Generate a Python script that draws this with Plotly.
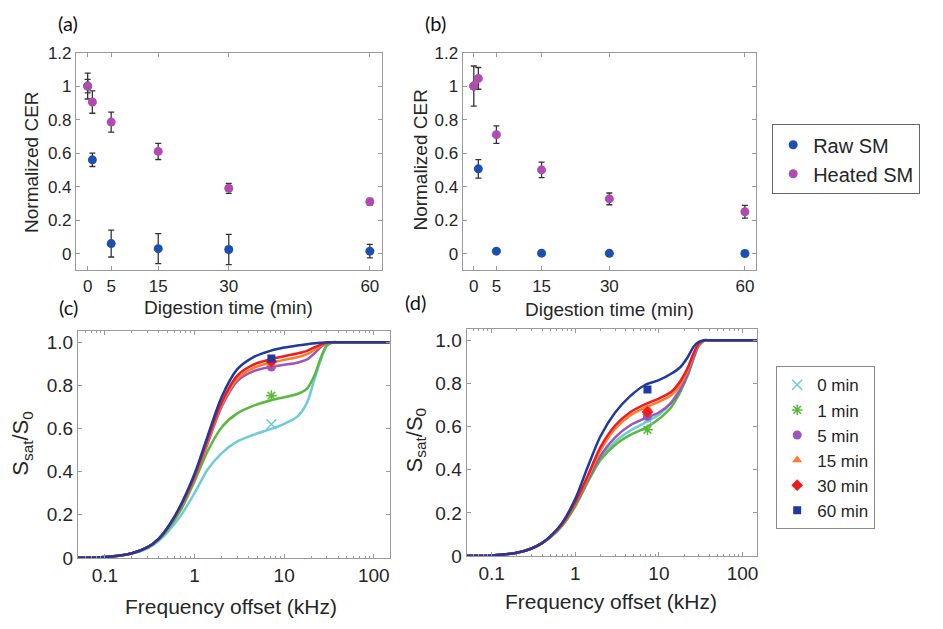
"""Digestion of SM: normalized CER (a, b) and saturation spectra (c, d)."""

import plotly.graph_objects as go

W, H = 943, 629

# ── Data ───────────────────────────────────────────────────────────
digestion_min = [0, 1, 5, 15, 30, 60]
time_ticks = [0, 5, 15, 30, 60]

a_raw = [1.0, 0.56, 0.06, 0.03, 0.025, 0.015]
a_raw_err = [0.077, 0.04, 0.08, 0.09, 0.09, 0.04]
a_heated = [1.0, 0.905, 0.785, 0.61, 0.39, 0.31]
a_heated_err = [0.04, 0.067, 0.06, 0.048, 0.03, 0.02]

b_raw = [1.0, 0.506, 0.015, 0.003, 0.002, 0.001]
b_raw_err = [0.12, 0.055, 0.005, 0.004, 0.004, 0.004]
b_heated = [1.0, 1.046, 0.71, 0.50, 0.327, 0.25]
b_heated_err = [0.0, 0.065, 0.052, 0.046, 0.035, 0.038]

freq_khz = [0.05, 0.1, 0.2, 0.3, 0.4, 0.5, 0.7, 1, 1.4, 2, 3, 4.5, 7, 10,
            14, 18, 22, 26, 30, 35, 40, 60, 100, 150]

c_0min = [0.001, 0.004, 0.02, 0.045, 0.08, 0.12, 0.195, 0.30, 0.41, 0.485, 0.54, 0.57,
          0.597, 0.622, 0.655, 0.72, 0.835, 0.925, 0.985, 1, 1, 1, 1, 1]
c_1min = [0.001, 0.004, 0.021, 0.048, 0.085, 0.13, 0.22, 0.355, 0.495, 0.605, 0.67, 0.705,
          0.73, 0.745, 0.76, 0.785, 0.85, 0.935, 0.985, 1, 1, 1, 1, 1]
c_5min = [0.001, 0.004, 0.022, 0.05, 0.09, 0.14, 0.235, 0.37, 0.53, 0.70, 0.82, 0.865,
          0.885, 0.895, 0.905, 0.92, 0.95, 0.98, 0.996, 1, 1, 1, 1, 1]
c_15min = [0.001, 0.004, 0.022, 0.05, 0.09, 0.14, 0.238, 0.375, 0.54, 0.71, 0.83, 0.88,
           0.905, 0.918, 0.93, 0.945, 0.965, 0.985, 0.997, 1, 1, 1, 1, 1]
c_30min = [0.001, 0.004, 0.022, 0.05, 0.09, 0.14, 0.24, 0.38, 0.55, 0.72, 0.845, 0.895,
           0.92, 0.935, 0.948, 0.96, 0.977, 0.99, 0.998, 1, 1, 1, 1, 1]
c_60min = [0.001, 0.004, 0.022, 0.05, 0.09, 0.14, 0.245, 0.39, 0.565, 0.745, 0.875, 0.93,
           0.96, 0.975, 0.985, 0.991, 0.995, 0.998, 1, 1, 1, 1, 1, 1]

d_0min = [0.001, 0.003, 0.015, 0.035, 0.06, 0.087, 0.143, 0.235, 0.345, 0.455, 0.53, 0.58,
          0.62, 0.655, 0.71, 0.785, 0.855, 0.93, 0.98, 1, 1, 1, 1, 1]
d_1min = [0.001, 0.003, 0.015, 0.035, 0.06, 0.085, 0.14, 0.23, 0.34, 0.445, 0.515, 0.56,
          0.595, 0.635, 0.69, 0.76, 0.835, 0.915, 0.975, 0.998, 1, 1, 1, 1]
d_5min = [0.001, 0.003, 0.015, 0.035, 0.06, 0.088, 0.145, 0.24, 0.35, 0.465, 0.55, 0.605,
          0.64, 0.665, 0.71, 0.77, 0.84, 0.92, 0.975, 1, 1, 1, 1, 1]
d_15min = [0.001, 0.003, 0.015, 0.035, 0.06, 0.09, 0.148, 0.245, 0.36, 0.49, 0.59, 0.65,
           0.69, 0.715, 0.745, 0.795, 0.86, 0.935, 0.982, 1, 1, 1, 1, 1]
d_30min = [0.001, 0.003, 0.015, 0.035, 0.06, 0.09, 0.15, 0.25, 0.37, 0.505, 0.605, 0.665,
           0.705, 0.73, 0.76, 0.81, 0.87, 0.94, 0.985, 1, 1, 1, 1, 1]
d_60min = [0.001, 0.003, 0.015, 0.035, 0.06, 0.09, 0.155, 0.265, 0.41, 0.555, 0.665, 0.74,
           0.795, 0.815, 0.845, 0.875, 0.92, 0.97, 0.993, 1, 1, 1, 1, 1]

# measured points at ~7 kHz
c_meas_freq = 7.2
c_meas = [0.62, 0.752, 0.885, 0.90, 0.91, 0.925]
d_meas_freq = 7.3
d_meas = [0.635, 0.585, 0.648, 0.685, 0.668, 0.772]

series_names = ["0 min", "1 min", "5 min", "15 min", "30 min", "60 min"]

# ── Style ──────────────────────────────────────────────────────────
RAW_BLUE = "#1d4fae"
HEATED_PURPLE = "#b04cb0"
SERIES_COLORS = ["#6cccd8", "#58b93c", "#9b55bd", "#ff7a2e", "#ee1c1c", "#1e3a9e"]
SERIES_SYMBOLS = ["x-thin-open", "asterisk-open", "circle", "triangle-up", "diamond", "square"]
SERIES_SIZES = [10, 9, 9, 9, 9, 8]
TXT = "#262626"
FRAME = "#9a9a9a"
FONT = "Liberation Sans, Arial, sans-serif"


def px_x(x):
    return x / W


def px_y(y):
    return 1 - y / H


fig = go.Figure()

# (a) and (b): CER vs digestion time
for xa, ya, raw, raw_err, heated, heated_err, show in [
    ("x", "y", a_raw, a_raw_err, a_heated, a_heated_err, True),
    ("x2", "y2", b_raw, b_raw_err, b_heated, b_heated_err, False),
]:
    for name, vals, errs, color in [("Raw SM", raw, raw_err, RAW_BLUE),
                                    ("Heated SM", heated, heated_err, HEATED_PURPLE)]:
        fig.add_trace(go.Scatter(
            x=digestion_min, y=vals, mode="markers", name=name,
            marker=dict(color=color, size=9),
            error_y=dict(type="data", array=errs, color="#333333", thickness=1.3, width=3),
            xaxis=xa, yaxis=ya, showlegend=show, legend="legend",
        ))

# (c) and (d): saturation curves + measured points
for xa, ya, curves, mfreq, meas, show in [
    ("x3", "y3", [c_0min, c_1min, c_5min, c_15min, c_30min, c_60min], c_meas_freq, c_meas, False),
    ("x4", "y4", [d_0min, d_1min, d_5min, d_15min, d_30min, d_60min], d_meas_freq, d_meas, True),
]:
    for i, curve in enumerate(curves):
        fig.add_trace(go.Scatter(
            x=freq_khz, y=curve, mode="lines", line=dict(color=SERIES_COLORS[i], width=2.5,
                                                         shape="spline", smoothing=0.8),
            xaxis=xa, yaxis=ya, showlegend=False, hoverinfo="skip",
        ))
    for i, val in enumerate(meas):
        sym = SERIES_SYMBOLS[i]
        fig.add_trace(go.Scatter(
            x=[mfreq], y=[val], mode="markers", name=series_names[i],
            marker=dict(color=SERIES_COLORS[i], symbol=sym, size=SERIES_SIZES[i],
                        line=dict(color=SERIES_COLORS[i], width=1.5 if "open" in sym else 0)),
            xaxis=xa, yaxis=ya, showlegend=show, legend="legend2",
        ))


def frame(size=17, **kw):
    base = dict(showline=True, linecolor=FRAME, linewidth=1, mirror="allticks",
                ticks="inside", ticklen=4, tickcolor=FRAME, showgrid=False, zeroline=False,
                tickfont=dict(size=size, color=TXT, family=FONT), ticklabelstandoff=0)
    base.update(kw)
    return base


time_axis = dict(range=[-2.5, 62.5], tickvals=time_ticks, ticktext=[str(t) for t in time_ticks])
cer_axis = dict(range=[-0.1, 1.2], tickvals=[0, 0.2, 0.4, 0.6, 0.8, 1, 1.2],
                ticktext=["0", "0.2", "0.4", "0.6", "0.8", "1", "1.2"])
freq_axis = dict(type="log", range=[-1.301, 2.176], tickvals=[0.1, 1, 10, 100],
                 ticktext=["0.1", "1", "10", "100"],
                 minor=dict(ticks="inside", ticklen=2, tickcolor=FRAME, dtick="D1", showgrid=False))
sat_axis = dict(range=[0, 1.05], tickvals=[0, 0.2, 0.4, 0.6, 0.8, 1.0],
                ticktext=["0", "0.2", "0.4", "0.6", "0.8", "1.0"])

fig.update_layout(
    width=W, height=H, margin=dict(l=0, r=0, t=0, b=0),
    paper_bgcolor="white", plot_bgcolor="white",
    font=dict(family=FONT, color=TXT),
    xaxis=frame(domain=[px_x(76), px_x(382)], anchor="y", **time_axis),
    yaxis=frame(domain=[px_y(270), px_y(45)], anchor="x", **cer_axis),
    xaxis2=frame(domain=[px_x(463), px_x(757)], anchor="y2", **time_axis),
    yaxis2=frame(domain=[px_y(270), px_y(45)], anchor="x2", **cer_axis),
    xaxis3=frame(size=19, domain=[px_x(78), px_x(390)], anchor="y3", **freq_axis),
    yaxis3=frame(size=19, domain=[px_y(567), px_y(333)], anchor="x3", **sat_axis),
    xaxis4=frame(size=19, domain=[px_x(467), px_x(758)], anchor="y4", **freq_axis),
    yaxis4=frame(size=19, domain=[px_y(565), px_y(331)], anchor="x4", **sat_axis),
    legend=dict(x=px_x(773), y=px_y(119), xanchor="left", yanchor="top",
                bordercolor="#666666", borderwidth=1, bgcolor="white",
                font=dict(size=20, color=TXT, family=FONT), itemwidth=30),
    legend2=dict(x=px_x(777), y=px_y(369), xanchor="left", yanchor="top",
                 bordercolor="#888888", borderwidth=1, bgcolor="white",
                 font=dict(size=17, color=TXT, family=FONT), itemwidth=30),
)

# axis titles and panel labels as annotations placed in pixel space
labels = [
    ("Normalized CER", 32, 158, 19, -90),
    ("Normalized CER", 420, 156, 19, -90),
    ("Digestion time (min)", 229, 308, 19, 0),
    ("Digestion time (min)", 610, 310, 19, 0),
    ("S<sub>sat</sub>/S<sub>0</sub>", 22, 448, 22, -90),
    ("S<sub>sat</sub>/S<sub>0</sub>", 416, 445, 22, -90),
    ("Frequency offset (kHz)", 231, 617, 21, 0),
    ("Frequency offset (kHz)", 612, 612, 21, 0),
]
for text, x, y, size, angle in labels:
    fig.add_annotation(text=text, x=px_x(x), y=px_y(y), xref="paper", yref="paper",
                       showarrow=False, textangle=angle, xanchor="center", yanchor="middle",
                       font=dict(size=size, color=TXT, family=FONT))

for text, x, y in [("(a)", 68, 14), ("(b)", 436, 14), ("(c)", 69, 308), ("(d)", 416, 303)]:
    fig.add_annotation(text=text, x=px_x(x), y=px_y(y), xref="paper", yref="paper",
                       showarrow=False, xanchor="center", yanchor="middle",
                       font=dict(size=20, color="#111111", family="Lato, Open Sans, sans-serif"))

# the default body margin would shift the fixed-size figure inside the window
fig.write_html("out.html", config={"displayModeBar": False},
               post_script="document.body.style.margin='0';")
